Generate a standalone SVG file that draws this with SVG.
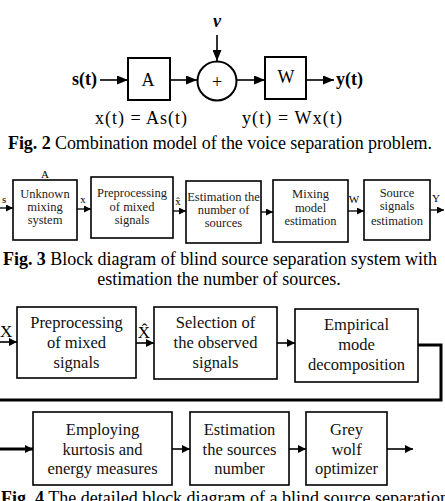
<svg xmlns="http://www.w3.org/2000/svg" width="445" height="501" viewBox="0 0 445 501">
<style>
  .t { font-family: "Liberation Serif", "Times New Roman", serif; fill: #000; }
  .b { font-weight: bold; }
  .box { fill: #fff; stroke: #000; stroke-width: 1.6; }
  .box2 { fill: #fff; stroke: #000; stroke-width: 2; }
  .ln { fill: none; stroke: #000; stroke-width: 1.6; }
  .ln3 { fill: none; stroke: #000; stroke-width: 1.3; }
  .f2 { font-size: 18px; }
  .f3 { font-size: 12.5px; fill: #222; }
  .f4 { font-size: 16.5px; fill: #111; }
  .cap { font-size: 18px; }
</style>
<defs>
  <marker id="ah" markerUnits="userSpaceOnUse" markerWidth="11" markerHeight="9" refX="11" refY="4.5" orient="auto">
    <path d="M0,0 L11,4.5 L0,9 z" fill="#000"/>
  </marker>
  <marker id="as" markerUnits="userSpaceOnUse" markerWidth="7" markerHeight="7" refX="7" refY="3.5" orient="auto">
    <path d="M0,0 L7,3.5 L0,7 z" fill="#000"/>
  </marker>
  <marker id="am" markerUnits="userSpaceOnUse" markerWidth="8" markerHeight="8" refX="8" refY="4" orient="auto">
    <path d="M0,0 L8,4 L0,8 z" fill="#000"/>
  </marker>
</defs>
<rect width="445" height="501" fill="#fff"/>

<!-- Fig. 2 -->
<g id="fig2-connectors">
  <line class="ln" x1="217" y1="35" x2="217" y2="61" marker-end="url(#ah)"/>
  <line class="ln" x1="100" y1="80" x2="128" y2="80" marker-end="url(#ah)"/>
  <line class="ln" x1="170" y1="80" x2="197" y2="80" marker-end="url(#ah)"/>
  <line class="ln" x1="237" y1="80" x2="265" y2="80" marker-end="url(#ah)"/>
  <line class="ln" x1="306" y1="80" x2="334" y2="80" marker-end="url(#ah)"/>
</g>
<g id="fig2-v"><text class="t b f2" x="217" y="27" text-anchor="middle" font-style="italic">v</text></g>
<g id="fig2-s"><text class="t b f2" x="97" y="85" text-anchor="end">s(t)</text></g>
<g id="fig2-A">
  <rect class="box2" x="128" y="58" width="42" height="42"/>
  <text class="t f2" x="148" y="86" text-anchor="middle">A</text>
</g>
<g id="fig2-sum">
  <circle cx="217" cy="81" r="19.5" fill="#fff" stroke="#000" stroke-width="2"/>
  <text class="t f2" x="217" y="88" text-anchor="middle">+</text>
</g>
<g id="fig2-W">
  <rect class="box2" x="265" y="57" width="41" height="42"/>
  <text class="t f2" x="286" y="83" text-anchor="middle">W</text>
</g>
<g id="fig2-y"><text class="t b f2" x="336" y="85">y(t)</text></g>
<g id="fig2-eqs">
  <text class="t f2" x="95" y="124" textLength="92">x(t) = As(t)</text>
  <text class="t f2" x="242" y="124" textLength="100">y(t) = Wx(t)</text>
</g>
<g id="cap2"><text class="t cap" x="8" y="149" textLength="424"><tspan class="b">Fig. 2</tspan> Combination model of the voice separation problem.</text></g>

<!-- Fig. 3 -->
<g id="fig3-connectors">
  <line class="ln3" x1="0" y1="208" x2="13" y2="208" marker-end="url(#as)"/>
  <line class="ln3" x1="77" y1="209" x2="91" y2="209" marker-end="url(#as)"/>
  <line class="ln3" x1="173" y1="211" x2="186" y2="211" marker-end="url(#as)"/>
  <line class="ln3" x1="261" y1="212" x2="273" y2="212" marker-end="url(#as)"/>
  <line class="ln3" x1="348" y1="211" x2="364" y2="211" marker-end="url(#as)"/>
  <line class="ln3" x1="430" y1="210" x2="444" y2="210" marker-end="url(#as)"/>
</g>
<g id="fig3-labels" class="t" font-size="11">
  <text class="t" font-size="11" x="2" y="203">s</text>
  <text class="t" font-size="11" x="45" y="178" text-anchor="middle">A</text>
  <text class="t" font-size="11" x="83" y="203" text-anchor="middle">x</text>
  <text class="t" font-size="11" x="178" y="205" text-anchor="middle">x̂</text>
  <text class="t" font-size="11" x="354" y="203" text-anchor="middle">W</text>
  <text class="t" font-size="11" x="436" y="202" text-anchor="middle">Y</text>
</g>
<g id="fig3-n1">
  <rect class="box" x="13" y="180" width="64" height="60" stroke-width="1.3"/>
  <text class="t f3" text-anchor="middle"><tspan x="45" y="198">Unknown</tspan><tspan x="45" y="211">mixing</tspan><tspan x="45" y="224">system</tspan></text>
</g>
<g id="fig3-n2">
  <rect class="box" x="91" y="177" width="82" height="61" stroke-width="2"/>
  <text class="t f3" text-anchor="middle"><tspan x="132" y="197">Preprocessing</tspan><tspan x="132" y="211">of mixed</tspan><tspan x="132" y="224">signals</tspan></text>
</g>
<g id="fig3-n3">
  <rect class="box" x="186" y="181" width="75" height="62" stroke-width="1.5"/>
  <text class="t f3" text-anchor="middle"><tspan x="223.5" y="201">Estimation the</tspan><tspan x="223.5" y="214">number of</tspan><tspan x="223.5" y="227">sources</tspan></text>
</g>
<g id="fig3-n4">
  <rect class="box" x="273" y="180" width="75" height="62" stroke-width="1.5"/>
  <text class="t f3" text-anchor="middle"><tspan x="310.5" y="198">Mixing</tspan><tspan x="310.5" y="212">model</tspan><tspan x="310.5" y="225">estimation</tspan></text>
</g>
<g id="fig3-n5">
  <rect class="box" x="364" y="180" width="66" height="60" stroke-width="1.5"/>
  <text class="t f3" text-anchor="middle"><tspan x="397" y="197">Source</tspan><tspan x="397" y="210">signals</tspan><tspan x="397" y="225">estimation</tspan></text>
</g>
<g id="cap3">
  <text class="t cap" x="3" y="265" textLength="434"><tspan class="b">Fig. 3</tspan> Block diagram of blind source separation system with</text>
  <text class="t cap" x="219" y="285" text-anchor="middle">estimation the number of sources.</text>
</g>

<!-- Fig. 4 -->
<g id="fig4-connectors">
  <line class="ln" x1="0" y1="342" x2="17" y2="342" marker-end="url(#am)"/>
  <line class="ln" x1="136" y1="343" x2="154" y2="343" marker-end="url(#am)"/>
  <line class="ln" x1="277" y1="343" x2="295" y2="343" marker-end="url(#am)"/>
  <path d="M418,345 H441 V400 H-3 V449 H33" fill="none" stroke="#000" stroke-width="3" marker-end="url(#am)"/>
  <line class="ln" x1="172" y1="449" x2="190" y2="449" marker-end="url(#am)"/>
  <line class="ln" x1="289" y1="449" x2="306" y2="449" marker-end="url(#am)"/>
  <line class="ln" x1="387" y1="449" x2="413" y2="449" marker-end="url(#am)"/>
</g>
<g id="fig4-labels">
  <text class="t" font-size="17" x="0" y="337">X</text>
  <text class="t" font-size="17" x="144" y="338" text-anchor="middle">X̂</text>
</g>
<g id="fig4-n1">
  <rect class="box" x="17" y="307" width="119" height="71"/>
  <text class="t f4" text-anchor="middle"><tspan x="76.5" y="328">Preprocessing</tspan><tspan x="76.5" y="348">of mixed</tspan><tspan x="76.5" y="368">signals</tspan></text>
</g>
<g id="fig4-n2">
  <rect class="box" x="154" y="307" width="123" height="72"/>
  <text class="t f4" text-anchor="middle"><tspan x="215.5" y="328">Selection of</tspan><tspan x="215.5" y="348">the observed</tspan><tspan x="215.5" y="368">signals</tspan></text>
</g>
<g id="fig4-n3">
  <rect class="box" x="295" y="309" width="123" height="73"/>
  <text class="t f4" text-anchor="middle"><tspan x="356.5" y="330">Empirical</tspan><tspan x="356.5" y="350">mode</tspan><tspan x="356.5" y="370">decomposition</tspan></text>
</g>
<g id="fig4-n4">
  <rect class="box" x="33" y="412" width="139" height="73"/>
  <text class="t f4" text-anchor="middle"><tspan x="102.5" y="435">Employing</tspan><tspan x="102.5" y="455">kurtosis and</tspan><tspan x="102.5" y="474">energy measures</tspan></text>
</g>
<g id="fig4-n5">
  <rect class="box" x="190" y="412" width="99" height="73"/>
  <text class="t f4" text-anchor="middle"><tspan x="239.5" y="435">Estimation</tspan><tspan x="239.5" y="455">the sources</tspan><tspan x="239.5" y="474">number</tspan></text>
</g>
<g id="fig4-n6">
  <rect class="box" x="306" y="412" width="81" height="73"/>
  <text class="t f4" text-anchor="middle"><tspan x="346.5" y="435">Grey</tspan><tspan x="346.5" y="455">wolf</tspan><tspan x="346.5" y="474">optimizer</tspan></text>
</g>
<g id="cap4"><text class="t cap" x="1" y="504"><tspan class="b">Fig. 4</tspan> The detailed block diagram of a blind source separation</text></g>
</svg>
